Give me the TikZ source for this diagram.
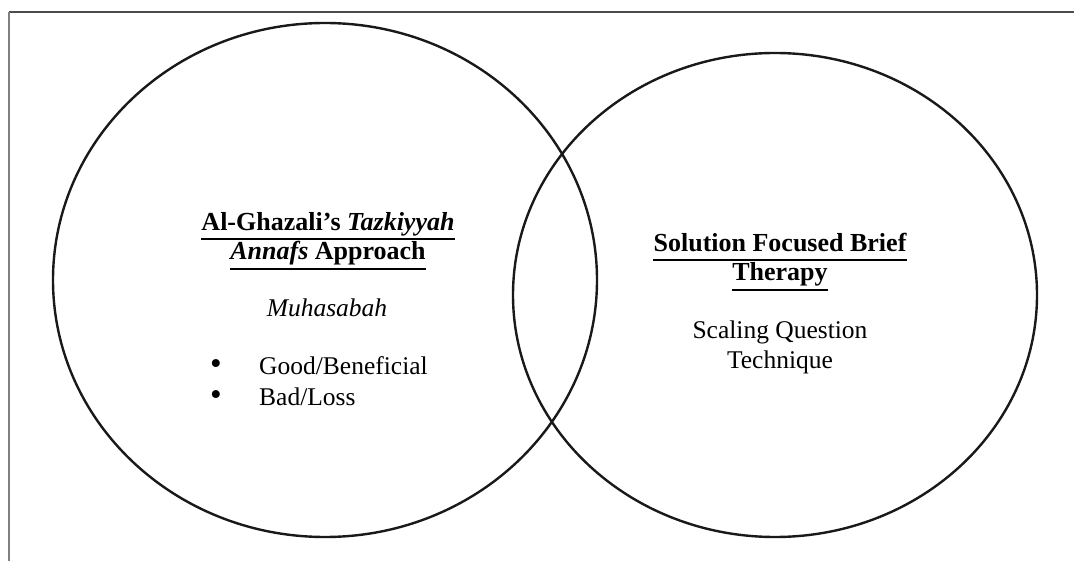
\documentclass[tikz,border=0pt]{standalone}
\usepackage{fontspec}
\setmainfont{Liberation Serif}
\begin{document}
\begin{tikzpicture}[x=1pt,y=-1pt,
  txt/.style={inner sep=0pt, anchor=base, font=\fontsize{25.5}{30}\selectfont},
  ttl/.style={txt, font=\fontsize{26}{30}\selectfont\bfseries},
  uline/.style={line width=1.8pt, black},
  ring/.style={line width=2.4pt, black!90}]
\useasboundingbox (0,0) rectangle (1074,561);
% frame
\draw[line width=2pt, black!70] (1074,12) -- (9,12);
\draw[line width=2pt, black!50] (9,12) -- (9,561);
% circles
\draw[ring] (325,280) ellipse [x radius=272, y radius=257];
\draw[ring] (775,295) ellipse [x radius=262, y radius=242];
% left texts
\node[ttl] (l1) at (328,231) {Al-Ghazali’s \textit{Tazkiyyah}};
\node[ttl] (l2) at (328,260) {\textit{Annafs} Approach};
\draw[uline] ([yshift=-8pt]l1.base west) -- ([yshift=-8pt]l1.base east);
\draw[uline] ([yshift=-9pt]l2.base west) -- ([yshift=-9pt]l2.base east);
\node[txt] (m) at (327,317) {\textit{Muhasabah}};
\node[txt, scale=1.3] (b1) at (216,374) {•};
\node[txt, anchor=base west] (g) at (259,374) {Good/Beneficial};
\node[txt, scale=1.3] (b2) at (216,406) {•};
\node[txt, anchor=base west] (bl) at (259,406) {Bad/Loss};
% right texts
\node[ttl] (r1) at (780,252) {Solution Focused Brief};
\node[ttl] (r2) at (780,281) {Therapy};
\draw[uline] ([yshift=-8pt]r1.base west) -- ([yshift=-8pt]r1.base east);
\draw[uline] ([yshift=-9pt]r2.base west) -- ([yshift=-9pt]r2.base east);
\node[txt] (s1) at (780,339) {Scaling Question};
\node[txt] (s2) at (780,368) {Technique};
\end{tikzpicture}
\end{document}
